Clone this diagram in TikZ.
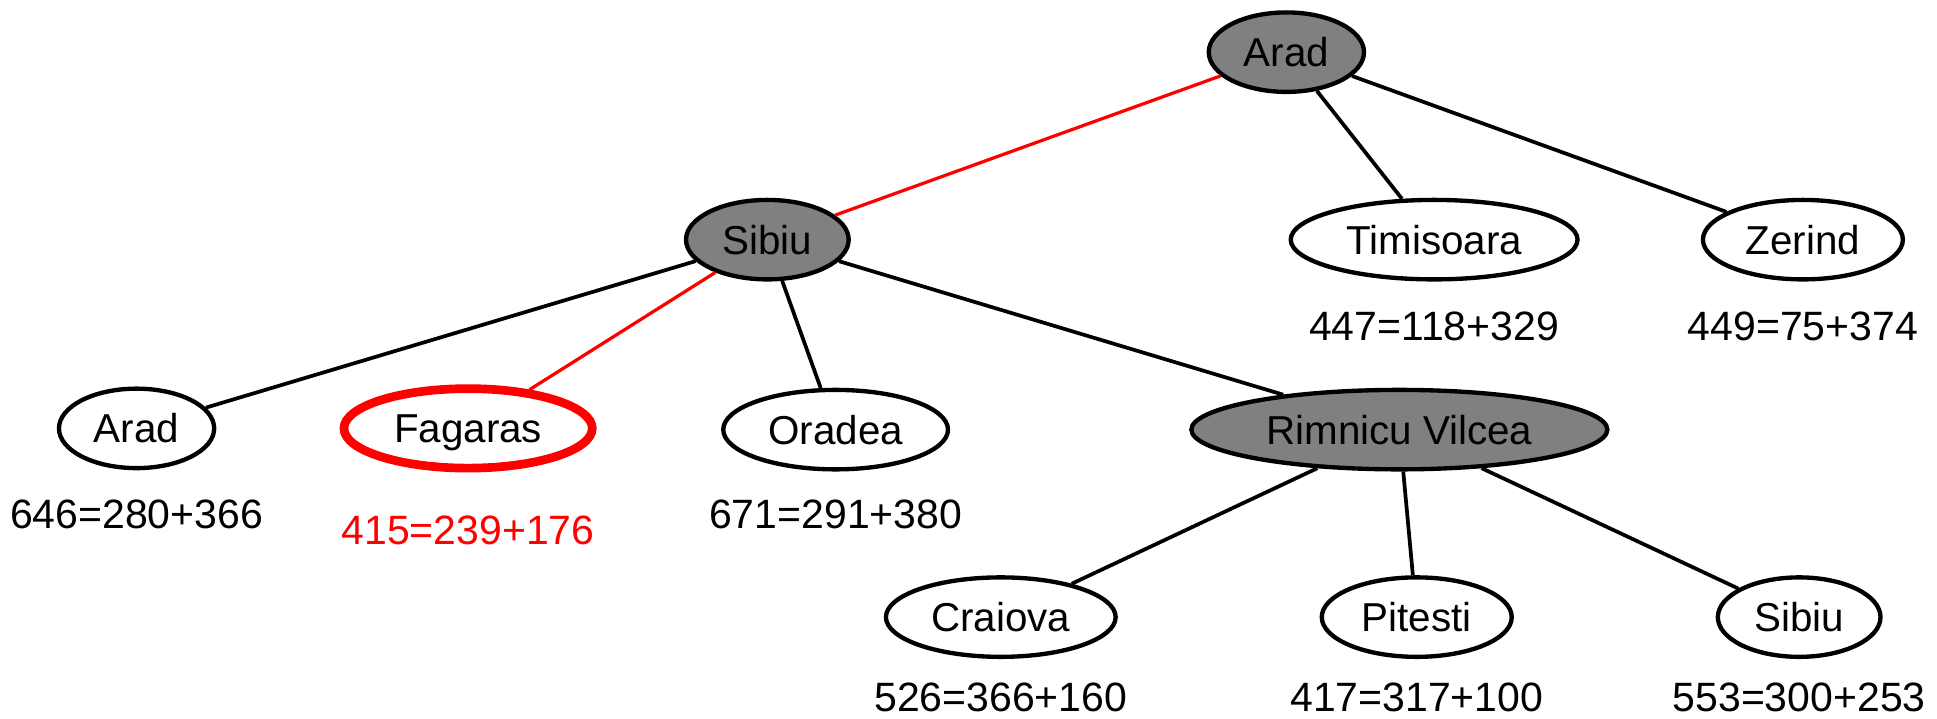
\documentclass[tikz,border=0pt]{standalone}
\usepackage{fontspec}
\setmainfont{Liberation Sans}
\usetikzlibrary{shapes.geometric}
\definecolor{nodegray}{HTML}{808080}
\definecolor{pathred}{HTML}{FF0000}
\tikzset{
  city/.style={ellipse, draw=black, line width=3.5pt, fill=white, inner sep=0pt,
    font=\fontsize{32.5}{40}\selectfont, text height=23.3pt, text depth=0pt},
  expanded/.style={city, fill=nodegray},
  chosen/.style={city, draw=pathred, line width=7pt},
  cost/.style={font=\fontsize{33}{40}\selectfont, inner sep=0pt},
  edge/.style={line width=3pt, black},
  redge/.style={line width=2.6pt, pathred}
}
\begin{document}
\begin{tikzpicture}[x=1pt,y=-1pt]
\useasboundingbox (0,0) rectangle (1560,579);
% level 0
\node[expanded, minimum width=125pt, minimum height=64pt] (arad0) at (1036,42) {Arad};
% level 1
\node[expanded, minimum width=131pt, minimum height=64pt] (sibiu1) at (618,193) {Sibiu};
\node[city, minimum width=231pt, minimum height=64pt] (timi) at (1155,193) {Timisoara};
\node[city, minimum width=161pt, minimum height=64pt] (zer) at (1452,193) {Zerind};
% level 2
\node[city, minimum width=125pt, minimum height=64pt] (arad2) at (110,345) {Arad};
\node[chosen, minimum width=200pt, minimum height=64pt] (fag) at (377,345) {Fagaras};
\node[city, minimum width=181pt, minimum height=64pt] (ora) at (673,346) {Oradea};
\node[expanded, minimum width=335pt, minimum height=64pt] (rim) at (1127,346) {Rimnicu Vilcea};
% level 3
\node[city, minimum width=185pt, minimum height=64pt] (cra) at (806,497) {Craiova};
\node[city, minimum width=153pt, minimum height=64pt] (pit) at (1141,497) {Pitesti};
\node[city, minimum width=131pt, minimum height=64pt] (sib3) at (1449,497) {Sibiu};
% costs
\node[cost] (ctimi) at (1155,263) {447=118+329};
\node[cost] (czer) at (1452,263) {449=75+374};
\node[cost] (carad) at (110,414) {646=280+366};
\node[cost, text=pathred] (cfag) at (377,427) {415=239+176};
\node[cost] (cora) at (673,414) {671=291+380};
\node[cost] (ccra) at (806,562) {526=366+160};
\node[cost] (cpit) at (1141,562) {417=317+100};
\node[cost] (csib) at (1449,562) {553=300+253};
% edges
\draw[redge] (arad0) -- (sibiu1);
\draw[edge] (arad0) -- (timi);
\draw[edge] (arad0) -- (zer);
\draw[edge] (sibiu1) -- (arad2);
\draw[redge] (sibiu1) -- (fag);
\draw[edge] (sibiu1) -- (ora);
\draw[edge] (sibiu1) -- (rim);
\draw[edge] (rim) -- (cra);
\draw[edge] (rim) -- (pit);
\draw[edge] (rim) -- (sib3);
\end{tikzpicture}
\end{document}
